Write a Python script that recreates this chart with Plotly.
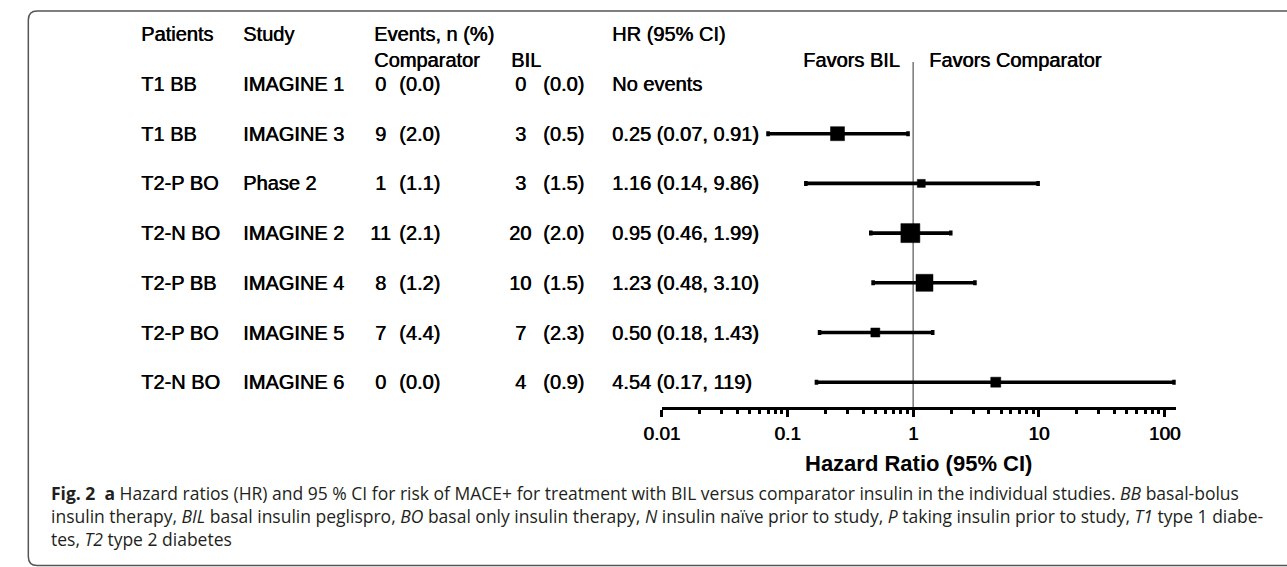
import plotly.graph_objects as go

# ---------------- data ----------------
patients = ["T1 BB", "T1 BB", "T2-P BO", "T2-N BO", "T2-P BB", "T2-P BO", "T2-N BO"]
studies = ["IMAGINE 1", "IMAGINE 3", "Phase 2", "IMAGINE 2", "IMAGINE 4", "IMAGINE 5", "IMAGINE 6"]
comp_n = [0, 9, 1, 11, 8, 7, 0]
comp_pct = [0.0, 2.0, 1.1, 2.1, 1.2, 4.4, 0.0]
bil_n = [0, 3, 3, 20, 10, 7, 4]
bil_pct = [0.0, 0.5, 1.5, 2.0, 1.5, 2.3, 0.9]
hr = [None, 0.25, 1.16, 0.95, 1.23, 0.50, 4.54]
ci_low = [None, 0.07, 0.14, 0.46, 0.48, 0.18, 0.17]
ci_high = [None, 0.91, 9.86, 1.99, 3.10, 1.43, 119]
tick_vals = [0.01, 0.1, 1, 10, 100]
tick_text = ["0.01", "0.1", "1", "10", "100"]

# ---------------- styles ----------------
marker_sizes = [0, 14, 8, 19, 17, 9, 10]
W, H = 1287, 567
FONT = "Liberation Sans, Arial, sans-serif"
FS = 20
SHADOW = "0.6px 0px 0px #000000"
ROW0_PX, ROW_STEP = 84, 49.7
AXIS_PX = 407


def px_x(p):
    return p / W


def px_y(p):
    return 1 - p / H


def fmt(v):
    return f"{v:.2f}" if v < 100 else f"{v:.0f}"


rows = list(range(len(studies)))
y_bottom = (AXIS_PX - ROW0_PX) / ROW_STEP
y_top = (20 - ROW0_PX) / ROW_STEP

fig = go.Figure()

err_plus = [None if h is None else hi - h for h, hi in zip(hr, ci_high)]
err_minus = [None if h is None else h - lo for h, lo in zip(hr, ci_low)]

fig.add_trace(go.Scatter(
    x=hr, y=rows, mode="markers",
    marker=dict(symbol="square", size=marker_sizes, color="#000000", opacity=1,
                line=dict(width=0.5, color="#000000")),
    error_x=dict(type="data", symmetric=False, array=err_plus, arrayminus=err_minus,
                 color="#000000", thickness=3.6, width=2.5),
    opacity=1, cliponaxis=False, showlegend=False, hoverinfo="skip",
))

# vertical reference line at HR = 1
fig.add_shape(type="line", xref="x", yref="y", x0=1, x1=1,
              y0=(62 - ROW0_PX) / ROW_STEP, y1=y_bottom,
              line=dict(color="#808080", width=1.6), layer="below")

ann = []


def add(text, x, y, anchor="left", size=FS, bold=False, yref="paper", color="black",
        family=FONT, shadow=SHADOW, align="left"):
    f = dict(family=family, size=size, color=color, weight="bold" if bold else "normal")
    if shadow:
        f["shadow"] = shadow
    ann.append(dict(text=text, x=x, y=y, xref="paper", yref=yref, xanchor=anchor,
                    yanchor="middle", showarrow=False, font=f, align=align))


# headers
add("Patients", px_x(123), px_y(34))
add("Study", px_x(227), px_y(34))
add("Events, n (%)", px_x(360), px_y(34))
add("HR (95% CI)", px_x(602), px_y(34))
add("Comparator", px_x(360), px_y(60))
add("BIL", px_x(500), px_y(60))
add("Favors BIL", px_x(899), px_y(60), anchor="right")
add("Favors Comparator", px_x(925), px_y(60))

for i in rows:
    add(patients[i], px_x(123), i, yref="y")
    add(studies[i], px_x(227), i, yref="y")
    add(str(comp_n[i]), px_x(369), i, anchor="center", yref="y")
    add(f"({comp_pct[i]:.1f})", px_x(386), i, yref="y")
    add(str(bil_n[i]), px_x(511), i, anchor="center", yref="y")
    add(f"({bil_pct[i]:.1f})", px_x(532), i, yref="y")
    if hr[i] is None:
        hr_txt = "No events"
    else:
        hr_txt = f"{hr[i]:.2f} ({fmt(ci_low[i])}, {fmt(ci_high[i])})"
    add(hr_txt, px_x(602), i, yref="y")

# axis title
add("Hazard Ratio (95% CI)", px_x(916), px_y(463), anchor="center", size=22, bold=True,
    shadow=None)

# caption (one multi-line text block)
CAP = "Open Sans, Lato, sans-serif"
cap_lines = [
    "<b>Fig. 2</b>\u00a0\u00a0<b>a</b> Hazard ratios (HR) and 95\u00a0% CI for risk of MACE+ for treatment with BIL versus comparator insulin in the individual studies. <i>BB</i> basal-bolus",
    "insulin therapy, <i>BIL</i> basal insulin peglispro, <i>BO</i> basal only insulin therapy, <i>N</i> insulin naïve prior to study, <i>P</i> taking insulin prior to study, <i>T1</i> type 1 diabe-",
    "tes, <i>T2</i> type 2 diabetes",
]
add("<br>".join(cap_lines), px_x(32), px_y(516), size=17.5, color="#231f20", family=CAP,
    shadow=None, align="left")

# frame (rounded left corners, runs off the right edge)
r = 9
xl, yt, yb = 10.5, 11, 565.5
path = (f"M {px_x(W + 5)},{px_y(yt)} L {px_x(xl + r)},{px_y(yt)} "
        f"Q {px_x(xl)},{px_y(yt)} {px_x(xl)},{px_y(yt + r)} "
        f"L {px_x(xl)},{px_y(yb - r)} Q {px_x(xl)},{px_y(yb)} {px_x(xl + r)},{px_y(yb)} "
        f"L {px_x(W + 5)},{px_y(yb)}")
fig.add_shape(type="path", xref="paper", yref="paper", path=path,
              line=dict(color="#555555", width=1.5))

fig.update_layout(
    width=W, height=H,
    margin=dict(l=0, r=0, t=0, b=0, pad=0),
    paper_bgcolor="white", plot_bgcolor="white",
    annotations=ann,
    xaxis=dict(
        type="log", range=[-2, 2.09],
        domain=[px_x(655), px_x(1178)],
        showgrid=False, zeroline=False,
        showline=True, linecolor="black", linewidth=3,
        tickmode="array", tickvals=tick_vals, ticktext=tick_text,
        ticks="outside", ticklen=7, tickwidth=3, tickcolor="black",
        tickfont=dict(family=FONT, size=19, color="black", shadow=SHADOW),
        minor=dict(ticks="outside", ticklen=4, tickwidth=2.5, tickcolor="black",
                   tickmode="array",
                   tickvals=[m * 10 ** e for e in range(-2, 2) for m in range(2, 10)]),
        anchor="y", fixedrange=True,
    ),
    yaxis=dict(
        range=[y_bottom, y_top], domain=[px_y(AXIS_PX), px_y(20)],
        visible=False, fixedrange=True,
    ),
)

fig.write_html(
    "out.html",
    config={"displayModeBar": False},
    post_script="document.body.style.margin='0px';document.body.style.overflow='hidden';",
)
